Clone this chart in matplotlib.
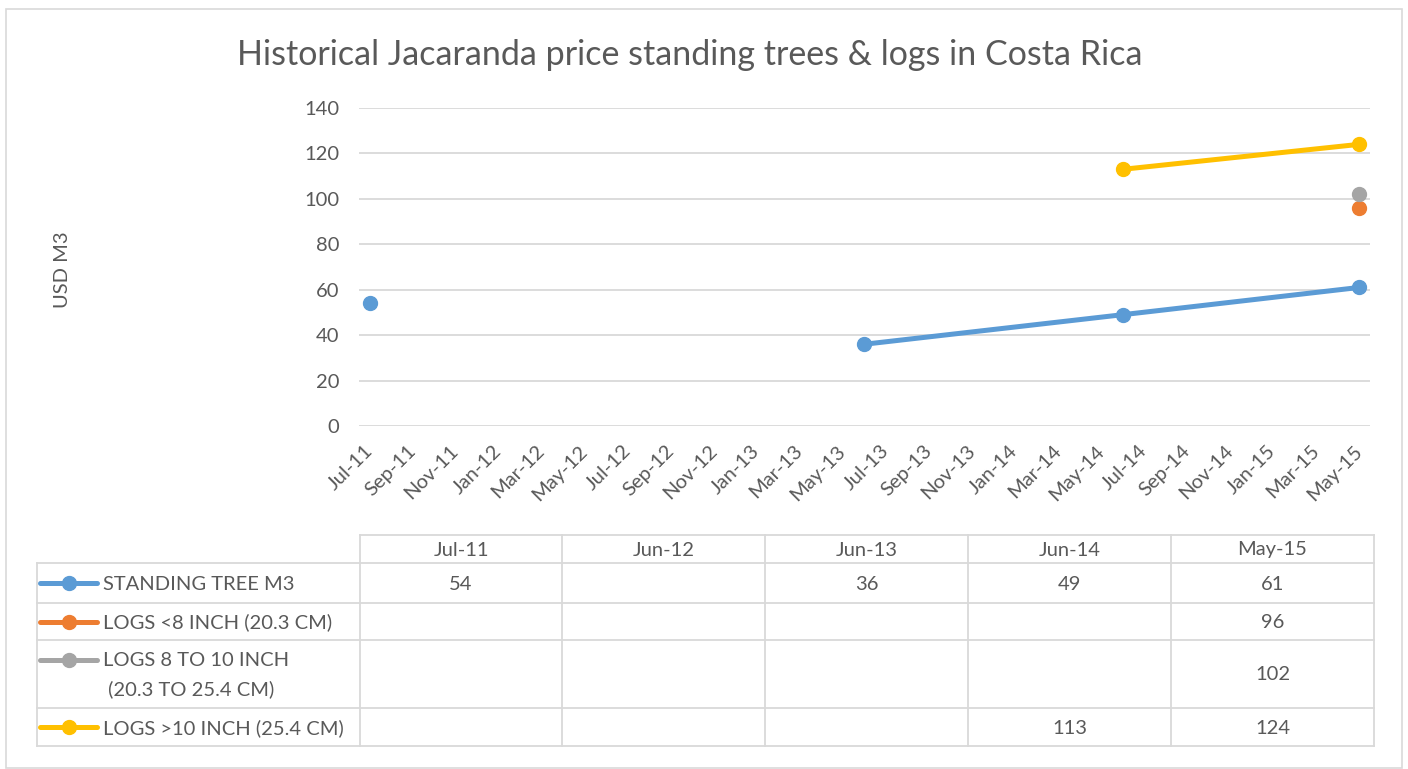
import matplotlib
matplotlib.use("Agg")
import matplotlib.pyplot as plt
from matplotlib.lines import Line2D
from matplotlib.patches import Rectangle
import numpy as np
import pandas as pd

# ---------------- data ----------------
dates = ["Jul-11", "Jun-12", "Jun-13", "Jun-14", "May-15"]
series_names = ["STANDING TREE M3", "LOGS <8 INCH (20.3 CM)",
                "LOGS 8 TO 10 INCH\n (20.3 TO 25.4 CM)", "LOGS >10 INCH (25.4 CM)"]
standing_tree = [54, None, 36, 49, 61]
logs_lt8 = [None, None, None, None, 96]
logs_8_10 = [None, None, None, None, 102]
logs_gt10 = [None, None, None, 113, 124]
series_values = [standing_tree, logs_lt8, logs_8_10, logs_gt10]
colors = ["#5B9BD5", "#ED7D31", "#A5A5A5", "#FFC000"]

title = "Historical Jacaranda price standing trees & logs in Costa Rica"
y_label = "USD M3"
y_ticks = [0, 20, 40, 60, 80, 100, 120, 140]

# ---------------- figure ----------------
W, H = 1408, 769
fig = plt.figure(figsize=(W / 100, H / 100), dpi=100)
FONT = ["Lato", "DejaVu Sans"]
plt.rcParams["font.family"] = FONT
TXT = "#595959"
GRID = "#D9D9D9"
FS = 14.5

def fx(px):
    return px / W

def fy(py):
    return 1 - py / H

# chart border
fig.add_artist(Rectangle((fx(6), fy(768)), fx(1402) - fx(6), fy(9) - fy(768),
                         transform=fig.transFigure, fill=False, ec=GRID, lw=1.2))

ax = fig.add_axes([fx(359), fy(426), fx(1370) - fx(359), fy(108) - fy(426)])

d0 = pd.to_datetime(dates[0], format="%b-%y")
def month_index(s):
    d = pd.to_datetime(s, format="%b-%y")
    return (d.year - d0.year) * 12 + d.month - d0.month

xs = np.array([month_index(d) for d in dates], dtype=float)
last = month_index(dates[-1])

for vals, c in zip(series_values, colors):
    y = np.array([np.nan if v is None else v for v in vals], dtype=float)
    ax.plot(xs, y, color=c, lw=3.6, marker="o", ms=10, solid_capstyle="round", zorder=3)

ax.set_xlim(-0.5, last + 0.5)
ax.set_ylim(0, 140)
ax.set_yticks(y_ticks)
ax.yaxis.grid(True, color=GRID, lw=1.3)
ax.set_axisbelow(True)
for s in ax.spines.values():
    s.set_visible(False)
ax.tick_params(axis="both", length=0, colors=TXT, labelsize=FS)
ax.tick_params(axis="y", pad=14)

tick_dates = pd.date_range(d0, periods=last // 2 + 1, freq="2MS")
ax.set_xticks(np.arange(0, last + 1, 2))
ax.set_xticklabels([d.strftime("%b-%y") for d in tick_dates], rotation=45,
                   ha="right", va="center", rotation_mode="anchor")
ax.tick_params(axis="x", pad=16)

fig.text(fx(62), fy(270), y_label, rotation=90, ha="center", va="center",
         fontsize=FS, color=TXT)

fig.text(fx(690), fy(55), title, ha="center", va="center", fontsize=24.5,
         color=TXT)

# ---------------- data table ----------------
col_edges = [37, 360, 562, 765, 968, 1171, 1374]
row_edges = [535, 563, 603, 640, 708, 746]
lc = GRID
lw = 1.3

def hline(y, x0, x1):
    fig.add_artist(Line2D([fx(x0), fx(x1)], [fy(y), fy(y)], transform=fig.transFigure,
                          color=lc, lw=lw))

def vline(x, y0, y1):
    fig.add_artist(Line2D([fx(x), fx(x)], [fy(y0), fy(y1)], transform=fig.transFigure,
                          color=lc, lw=lw))

hline(row_edges[0], col_edges[1], col_edges[-1])
for y in row_edges[1:]:
    hline(y, col_edges[0], col_edges[-1])
vline(col_edges[0], row_edges[1], row_edges[-1])
for x in col_edges[1:]:
    vline(x, row_edges[0], row_edges[-1])

# header
for i, d in enumerate(dates):
    cx = (col_edges[i + 1] + col_edges[i + 2]) / 2
    fig.text(fx(cx), fy((row_edges[0] + row_edges[1]) / 2 + 1), d, ha="center",
             va="center", fontsize=FS, color=TXT)

for r, (name, vals, c) in enumerate(zip(series_names, series_values, colors)):
    top, bot = row_edges[r + 1], row_edges[r + 2]
    cy = (top + bot) / 2
    key_y = cy if "\n" not in name else top + 20
    fig.add_artist(Line2D([fx(40), fx(97)], [fy(key_y), fy(key_y)], transform=fig.transFigure,
                          color=c, lw=3.6, solid_capstyle="round"))
    fig.add_artist(Line2D([fx(69)], [fy(key_y)], transform=fig.transFigure,
                          color=c, marker="o", ms=10, lw=0))
    if "\n" in name:
        l1, l2 = name.split("\n")
        fig.text(fx(103), fy(top + 20), l1, ha="left", va="center", fontsize=FS, color=TXT)
        fig.text(fx(103), fy(top + 49), l2, ha="left", va="center", fontsize=FS, color=TXT)
    else:
        fig.text(fx(103), fy(cy + 1), name, ha="left", va="center", fontsize=FS, color=TXT)
    for i, v in enumerate(vals):
        if v is None:
            continue
        cx = (col_edges[i + 1] + col_edges[i + 2]) / 2
        fig.text(fx(cx), fy(cy + 1), str(v), ha="center", va="center", fontsize=FS, color=TXT)

fig.savefig("out.png", dpi=100, facecolor="white")
